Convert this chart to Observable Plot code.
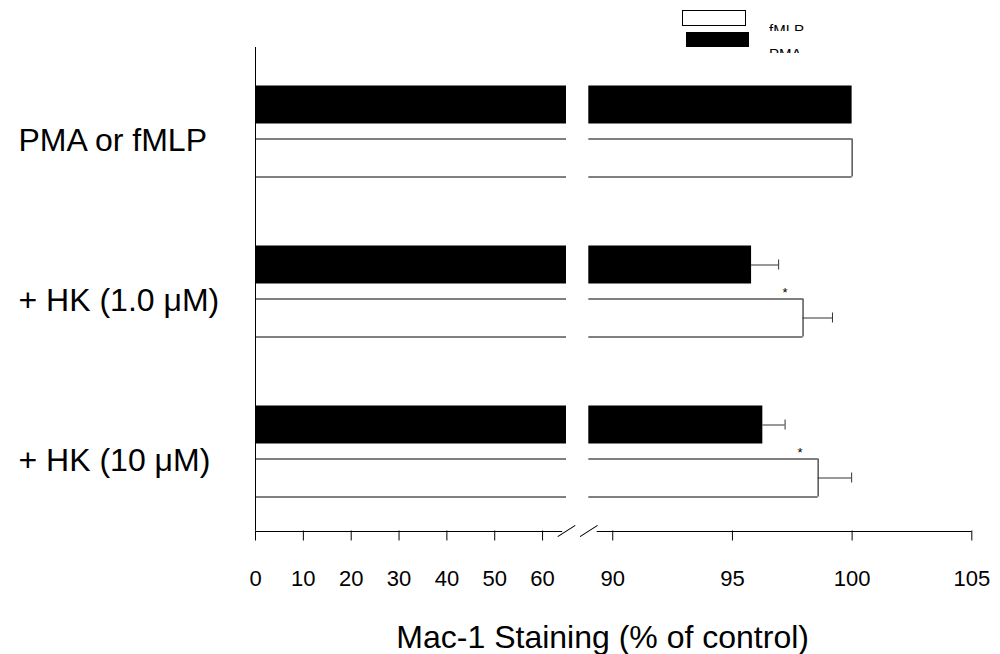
<!DOCTYPE html>
<html><head><meta charset="utf-8">
<script src="https://cdn.jsdelivr.net/npm/d3@7"></script>
<script src="https://cdn.jsdelivr.net/npm/@observablehq/plot@0.6"></script>
<style>
html,body{margin:0;padding:0;background:#fff;}
#wrap{position:relative;width:1000px;height:654px;font-family:"Liberation Sans",Arial,sans-serif;}
.sw{position:absolute;box-sizing:border-box;}
.lt{position:absolute;overflow:hidden;font-size:15px;line-height:15px;color:#000;white-space:nowrap;}
</style></head><body><div id="wrap"></div>
<script>
// ---- data ----
const groups = ["PMA or fMLP", "+ HK (1.0 \u03BCM)", "+ HK (10 \u03BCM)"];
const pmaValues = [100, 95.8, 96.27];
const pmaErrors = [0, 1.13, 0.93];
const fmlpValues = [100, 97.95, 98.58];
const fmlpErrors = [0, 1.23, 1.4];
const fmlpSignificant = [false, true, true];
const xTicks = [0, 10, 20, 30, 40, 50, 60, 90, 95, 100, 105];
const axisBreak = [65, 89];
const xMax = 105;
const legendLabels = ["fMLP", "PMA"];
const xLabel = "Mac-1 Staining (% of control)";

// ---- derived tables ----
const segs = [];
const errs = [];
groups.forEach((g, i) => {
  [["PMA", pmaValues, pmaErrors], ["fMLP", fmlpValues, fmlpErrors]].forEach(([s, vals, es]) => {
    segs.push({group: g, series: s, part: "left", x1: 0, x2: Math.min(vals[i], axisBreak[0])});
    segs.push({group: g, series: s, part: "right", x1: axisBreak[1], x2: vals[i]});
    if (es[i] > 0) errs.push({group: g, series: s, v: vals[i], e: es[i]});
  });
});
const pmaSegs = segs.filter(d => d.series === "PMA");
const fmlpSegs = segs.filter(d => d.series === "fMLP");
const fmlpRight = fmlpSegs.filter(d => d.part === "right");
const pmaErrs = errs.filter(d => d.series === "PMA");
const fmlpErrs = errs.filter(d => d.series === "fMLP");
const stars = groups.map((g, i) => ({group: g, v: fmlpValues[i], sig: fmlpSignificant[i]})).filter(d => d.sig);
const axisSegs = [{x1: 0, x2: axisBreak[0] - 0.8}, {x1: axisBreak[1] + 0.35, x2: xMax}];

const slash = {draw(ctx, l) { ctx.moveTo(0, 0); ctx.lineTo(0, -l); }};

const chart = Plot.plot({
  width: 1000,
  height: 654,
  marginTop: 50.5,
  marginBottom: 123.5,
  marginLeft: 255,
  marginRight: 28.7,
  style: {fontFamily: '"Liberation Sans", Arial, sans-serif', background: "white", color: "black", overflow: "visible"},
  x: {type: "linear", domain: [0, axisBreak[0], axisBreak[1], xMax], range: [255, 566, 588.3, 971.3]},
  y: {type: "band", domain: groups, padding: 0},
  marks: [
    Plot.barX(pmaSegs, {x1: "x1", x2: "x2", y: "group", fill: "black", insetTop: 34.5, insetBottom: 87.5}),
    Plot.barX(fmlpSegs, {x1: "x1", x2: "x2", y: "group", fill: "white", insetTop: 87.5, insetBottom: 34.5}),
    Plot.ruleY(fmlpSegs, {x1: "x1", x2: "x2", y: "group", dy: 7.5, stroke: "black"}),
    Plot.ruleY(fmlpSegs, {x1: "x1", x2: "x2", y: "group", dy: 45.5, stroke: "black"}),
    Plot.tickX(fmlpRight, {x: "x2", y: "group", insetTop: 87.5, insetBottom: 34.5, stroke: "black"}),
    // error bars
    Plot.ruleY(pmaErrs, {x1: "v", x2: d => d.v + d.e, y: "group", dy: -26.5, stroke: "#333"}),
    Plot.tickX(pmaErrs, {x: d => d.v + d.e, y: "group", insetTop: 48.5, insetBottom: 101.5, stroke: "#333"}),
    Plot.ruleY(fmlpErrs, {x1: "v", x2: d => d.v + d.e, y: "group", dy: 26.5, stroke: "#333"}),
    Plot.tickX(fmlpErrs, {x: d => d.v + d.e, y: "group", insetTop: 101.5, insetBottom: 48.5, stroke: "#333"}),
    Plot.text(stars, {x: "v", y: "group", text: () => "*", dx: -18, dy: 1.5, fontSize: 13}),
    // axes
    Plot.ruleX([0], {insetTop: -3.5, stroke: "black"}),
    Plot.ruleY(axisSegs, {x1: "x1", x2: "x2", y: () => groups[groups.length - 1], dy: 80, stroke: "black"}),
    Plot.vector(axisBreak, {x: d => d, frameAnchor: "bottom", length: 20, rotate: 57, anchor: "middle", shape: slash, stroke: "black", strokeWidth: 1}),
    Plot.axisX({ticks: xTicks, tickSize: 10, tickPadding: 29, fontSize: 22, label: null, tickFormat: d => String(d)}),
    Plot.axisY({tickSize: 0, tickPadding: 0, textAnchor: "start", dx: -237, dy: 9, fontSize: 32, label: null}),
    Plot.text([xLabel], {frameAnchor: "bottom", lineAnchor: "middle", dx: -11, dy: 106.3, fontSize: 32})
  ]
});

const wrap = document.getElementById("wrap");
wrap.appendChild(chart);

// legend
function box(left, top, w, h, fill, border) {
  const d = document.createElement("div");
  d.className = "sw";
  Object.assign(d.style, {left: left + "px", top: top + "px", width: w + "px", height: h + "px", background: fill, border: border});
  wrap.appendChild(d);
}
function label(text, left, top, h) {
  const d = document.createElement("div");
  d.className = "lt";
  Object.assign(d.style, {left: left + "px", top: top + "px", height: h + "px"});
  d.textContent = text;
  wrap.appendChild(d);
}
box(682, 10, 64, 16, "white", "1.5px solid black");
box(686, 32, 63, 15, "black", "none");
label(legendLabels[0], 769, 22.3, 8.7);
label(legendLabels[1], 769, 45.7, 7.6);
</script>
</body></html>
